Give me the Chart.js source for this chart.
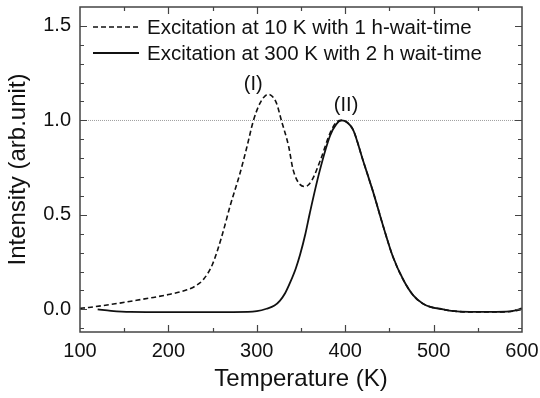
<!DOCTYPE html>
<html>
<head>
<meta charset="utf-8">
<script src="https://cdn.jsdelivr.net/npm/chart.js@4/dist/chart.umd.min.js"></script>
<style>
  html, body { margin: 0; padding: 0; background: #fff; }
  #wrap { width: 540px; height: 398px; }
</style>
</head>
<body>
<div id="wrap"><canvas id="c" width="540" height="398"></canvas></div>
<script>
// ---- Data ----
const legendLabels = ["Excitation at 10 K with 1 h-wait-time", "Excitation at 300 K with 2 h wait-time"];
const temps10K = [100, 110, 126, 145, 164, 183, 202, 221, 230, 240, 250, 260, 270, 281, 289, 296, 304, 313, 322, 328, 336, 341, 349, 355, 362, 372, 383, 390, 396, 402, 409, 420, 432, 443, 454, 466, 477, 488, 497, 507, 520, 541, 571, 590, 600];
const vals10K  = [0.005, 0.01, 0.02, 0.033, 0.048, 0.063, 0.08, 0.103, 0.122, 0.16, 0.24, 0.38, 0.55, 0.72, 0.863, 0.996, 1.094, 1.138, 1.094, 0.996, 0.863, 0.74, 0.66, 0.65, 0.68, 0.79, 0.934, 0.99, 1.0, 0.99, 0.95, 0.79, 0.615, 0.44, 0.278, 0.154, 0.074, 0.03, 0.012, 0.003, -0.008, -0.014, -0.014, -0.01, 0.0];
const temps300K = [120, 135, 157, 200, 250, 290, 300, 311, 320, 326, 332, 338, 344, 349, 355, 360, 371, 383, 390, 396, 402, 409, 420, 432, 443, 454, 466, 477, 488, 497, 507, 520, 541, 571, 590, 600];
const vals300K  = [0.0, -0.008, -0.014, -0.015, -0.015, -0.014, -0.01, 0.003, 0.02, 0.045, 0.085, 0.145, 0.215, 0.29, 0.4, 0.51, 0.73, 0.92, 0.98, 1.0, 0.99, 0.95, 0.79, 0.615, 0.44, 0.278, 0.154, 0.074, 0.03, 0.012, 0.003, -0.008, -0.013, -0.013, -0.008, 0.005];
const refLineX = [100, 600];
const refLineY = [1.0, 1.0];
const xTickLabels = [100, 200, 300, 400, 500, 600];
const yTickLabels = [0.0, 0.5, 1.0, 1.5];
const xMinorTicks = [150, 250, 350, 450, 550];
const yMinorTicks = [-0.1, 0.1, 0.2, 0.3, 0.4, 0.6, 0.7, 0.8, 0.9, 1.1, 1.2, 1.3, 1.4];
const peakLabels = ["(I)", "(II)"];
const peakLabelX = [296, 401];
const peakLabelY = [1.19, 1.08];

const FONT = "'Liberation Sans', Arial, sans-serif";
const toPts = (xs, ys) => xs.map((x, i) => ({ x: x, y: ys[i] }));

const framePlugin = {
  id: 'frame',
  afterDatasetsDraw(chart) {
    const ctx = chart.ctx, a = chart.chartArea;
    const xs = chart.scales.x, ys = chart.scales.y;
    ctx.save();
    ctx.strokeStyle = '#444';
    ctx.lineWidth = 1.5;
    ctx.strokeRect(a.left, a.top, a.right - a.left, a.bottom - a.top);
    ctx.lineWidth = 1.2;
    const drawX = (vals, len) => vals.forEach(v => {
      const p = Math.round(xs.getPixelForValue(v)) + 0.5;
      ctx.beginPath();
      ctx.moveTo(p, a.bottom); ctx.lineTo(p, a.bottom - len);
      ctx.moveTo(p, a.top); ctx.lineTo(p, a.top + len);
      ctx.stroke();
    });
    const drawY = (vals, len) => vals.forEach(v => {
      const p = Math.round(ys.getPixelForValue(v)) + 0.5;
      ctx.beginPath();
      ctx.moveTo(a.left, p); ctx.lineTo(a.left + len, p);
      ctx.moveTo(a.right, p); ctx.lineTo(a.right - len, p);
      ctx.stroke();
    });
    drawX(xTickLabels.slice(1, -1), 7);
    drawX(xMinorTicks, 4);
    drawY(yTickLabels, 7);
    drawY(yMinorTicks, 4);

    // peak labels
    ctx.fillStyle = '#111';
    ctx.font = '20px ' + FONT;
    ctx.textAlign = 'center';
    ctx.textBaseline = 'middle';
    peakLabels.forEach((t, i) => {
      ctx.fillText(t, xs.getPixelForValue(peakLabelX[i]), ys.getPixelForValue(peakLabelY[i]));
    });

    // legend inside plot
    const ds = chart.data.datasets;
    const rowsY = [27, 53];
    ctx.font = '20.5px ' + FONT;
    ctx.textAlign = 'left';
    [0, 1].forEach(i => {
      const d = ds[i];
      const y = rowsY[i];
      ctx.beginPath();
      ctx.strokeStyle = d.borderColor;
      ctx.lineWidth = d.borderWidth;
      ctx.setLineDash(d.borderDash || []);
      ctx.moveTo(a.left + 13, y);
      ctx.lineTo(a.left + 59, y);
      ctx.stroke();
      ctx.setLineDash([]);
      ctx.fillStyle = '#111';
      ctx.fillText(d.label, a.left + 67, y + 1);
    });
    ctx.restore();
  }
};

new Chart(document.getElementById('c'), {
  type: 'line',
  data: {
    datasets: [
      { label: legendLabels[0], data: toPts(temps10K, vals10K), borderColor: '#111', borderWidth: 1.6, borderDash: [5, 3], pointRadius: 0, cubicInterpolationMode: 'monotone', fill: false },
      { label: legendLabels[1], data: toPts(temps300K, vals300K), borderColor: '#111', borderWidth: 1.8, pointRadius: 0, cubicInterpolationMode: 'monotone', fill: false },
      { label: 'ref', data: toPts(refLineX, refLineY), borderColor: '#888', borderWidth: 0.8, borderDash: [1, 1], pointRadius: 0, fill: false }
    ]
  },
  options: {
    responsive: false,
    animation: false,
    devicePixelRatio: 1,
    layout: { padding: { top: 7, right: 18, left: 0, bottom: 0 } },
    plugins: { legend: { display: false }, tooltip: { enabled: false } },
    scales: {
      x: {
        type: 'linear', min: 100, max: 600,
        grid: { display: false, drawTicks: false },
        border: { display: false },
        afterBuildTicks: s => { s.ticks = xTickLabels.map(v => ({ value: v })); },
        afterFit: s => { s.height = 66; s.paddingLeft = 0; s.paddingRight = 0; },
        ticks: { color: '#111', font: { family: FONT, size: 20 }, padding: 7, maxRotation: 0 },
        title: { display: true, text: 'Temperature (K)', color: '#111', font: { family: FONT, size: 24 }, padding: { top: 2 } }
      },
      y: {
        type: 'linear', min: -0.12, max: 1.6,
        grid: { display: false, drawTicks: false },
        border: { display: false },
        afterBuildTicks: s => { s.ticks = yTickLabels.map(v => ({ value: v })); },
        afterFit: s => { s.width = 80; s.paddingTop = 0; s.paddingBottom = 0; },
        ticks: { color: '#111', font: { family: FONT, size: 20 }, padding: 9, callback: v => v.toFixed(1) },
        title: { display: true, text: 'Intensity (arb.unit)', color: '#111', font: { family: FONT, size: 24 }, padding: { bottom: 0 } }
      }
    }
  },
  plugins: [framePlugin]
});
</script>
</body>
</html>
